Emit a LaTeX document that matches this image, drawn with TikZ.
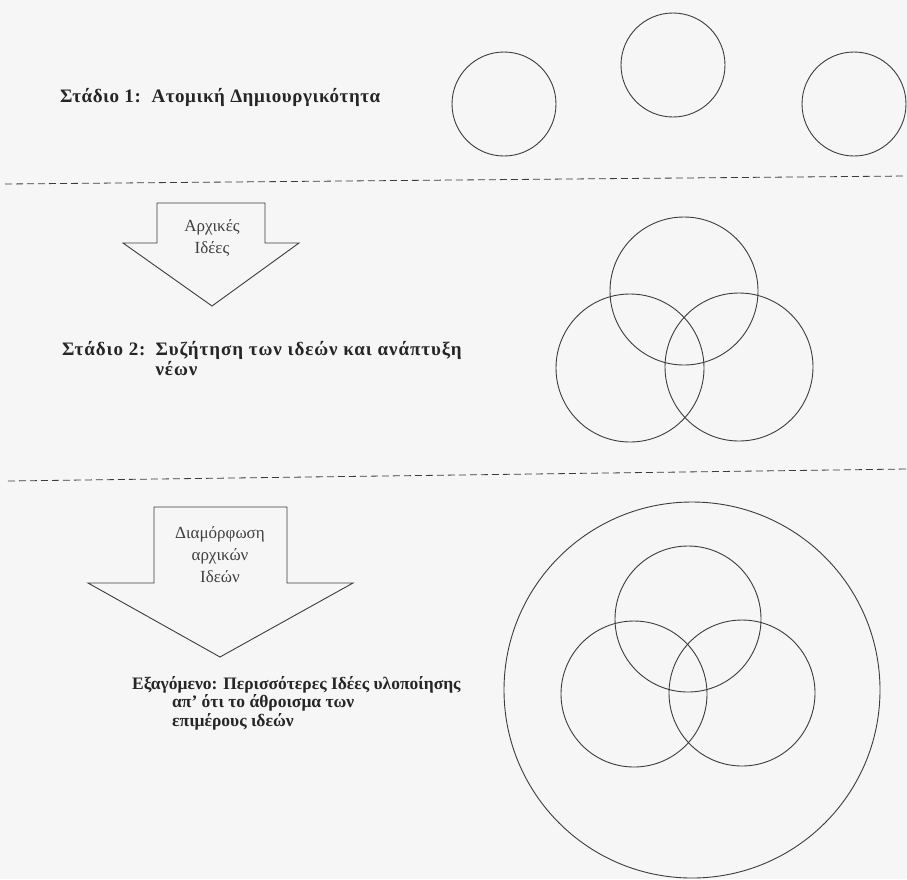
\documentclass[tikz,border=0pt]{standalone}
\usepackage{fontspec}
\setmainfont{Liberation Serif}
\usepackage{tikz}
\usetikzlibrary{positioning, calc}
\definecolor{inkgray}{RGB}{60, 60, 60}
\definecolor{papergray}{RGB}{246, 246, 246}
\tikzset{
  idea/.style={
    circle,
    draw=inkgray,
    line width=0.9pt,
    inner sep=0pt
  },
  stagetext/.style={
    anchor=base west,
    inner sep=0pt,
    text=black!85,
    font=\fontsize{17.5}{18.7}\selectfont\bfseries
  },
  spaced/.style={
    font=\fontsize{19}{20}\selectfont\bfseries\addfontfeatures{LetterSpace=5}
  },
  arrowtext/.style={
    inner sep=0pt,
    align=center,
    text=black!75,
    font=\fontsize{17}{22}\selectfont
  },
  arrowbox/.style={
    draw=inkgray,
    line width=0.9pt,
    line join=miter
  },
  divider/.style={
    draw=inkgray,
    line width=0.8pt,
    dash pattern=on 7pt off 4pt
  }
}

\begin{document}
\begin{tikzpicture}[x=1pt, y=-1pt]
  \fill[papergray] (0,0) rectangle (907,879);
  \useasboundingbox (0,0) rectangle (907,879);

  % stage 1
  \node[stagetext, font=\fontsize{19}{20}\selectfont\bfseries\addfontfeatures{LetterSpace=3}]
    (stage1) at (60,102) {Στάδιο 1:\ \ Ατομική Δημιουργικότητα};
  \node[idea, minimum size=104pt] (solo1) at (504,104) {};
  \node[idea, minimum size=104pt] (solo2) at (673,65) {};
  \node[idea, minimum size=104pt] (solo3) at (854,104) {};

  \coordinate (cut1a) at (5,184);
  \coordinate (cut1b) at (907,176);
  \path[divider] (cut1a) -- (cut1b);

  % stage 2
  \draw[arrowbox] (157,203) -- (265,203) -- (265,243) -- (299,243) -- (212,306)
    -- (123,243) -- (157,243) -- cycle;
  \node[arrowtext] (initial) at (212,238) {Αρχικές\\Ιδέες};

  \node[stagetext, spaced] (stage2) at (62,355) {%
    \begin{tabular}[t]{@{}l@{\hspace{10pt}}l@{}}
      Στάδιο 2: & Συζήτηση των ιδεών και ανάπτυξη\\
                & νέων
    \end{tabular}};
  \node[idea, minimum size=148pt] (talk1) at (684,291) {};
  \node[idea, minimum size=148pt] (talk2) at (630,368) {};
  \node[idea, minimum size=148pt] (talk3) at (739,367) {};

  \coordinate (cut2a) at (8,481);
  \coordinate (cut2b) at (907,469);
  \path[divider] (cut2a) -- (cut2b);

  % outcome
  \draw[arrowbox] (154,507) -- (287,507) -- (287,583) -- (353,583) -- (220,657)
    -- (88,583) -- (154,583) -- cycle;
  \node[arrowtext] (shaping) at (220,555) {Διαμόρφωση\\αρχικών\\Ιδεών};

  \node[stagetext] (result) at (132,689) {%
    \begin{tabular}[t]{@{}l@{}}
      Εξαγόμενο: Περισσότερες Ιδέες υλοποίησης\\
      \hspace*{40pt}απ' ότι το άθροισμα των\\
      \hspace*{40pt}επιμέρους ιδεών
    \end{tabular}};
  \node[idea, minimum size=376pt] (whole) at (692,690) {};
  \node[idea, minimum size=146pt] (part1) at (688,619) {};
  \node[idea, minimum size=146pt] (part2) at (634,694) {};
  \node[idea, minimum size=146pt] (part3) at (742,693) {};
\end{tikzpicture}
\end{document}
